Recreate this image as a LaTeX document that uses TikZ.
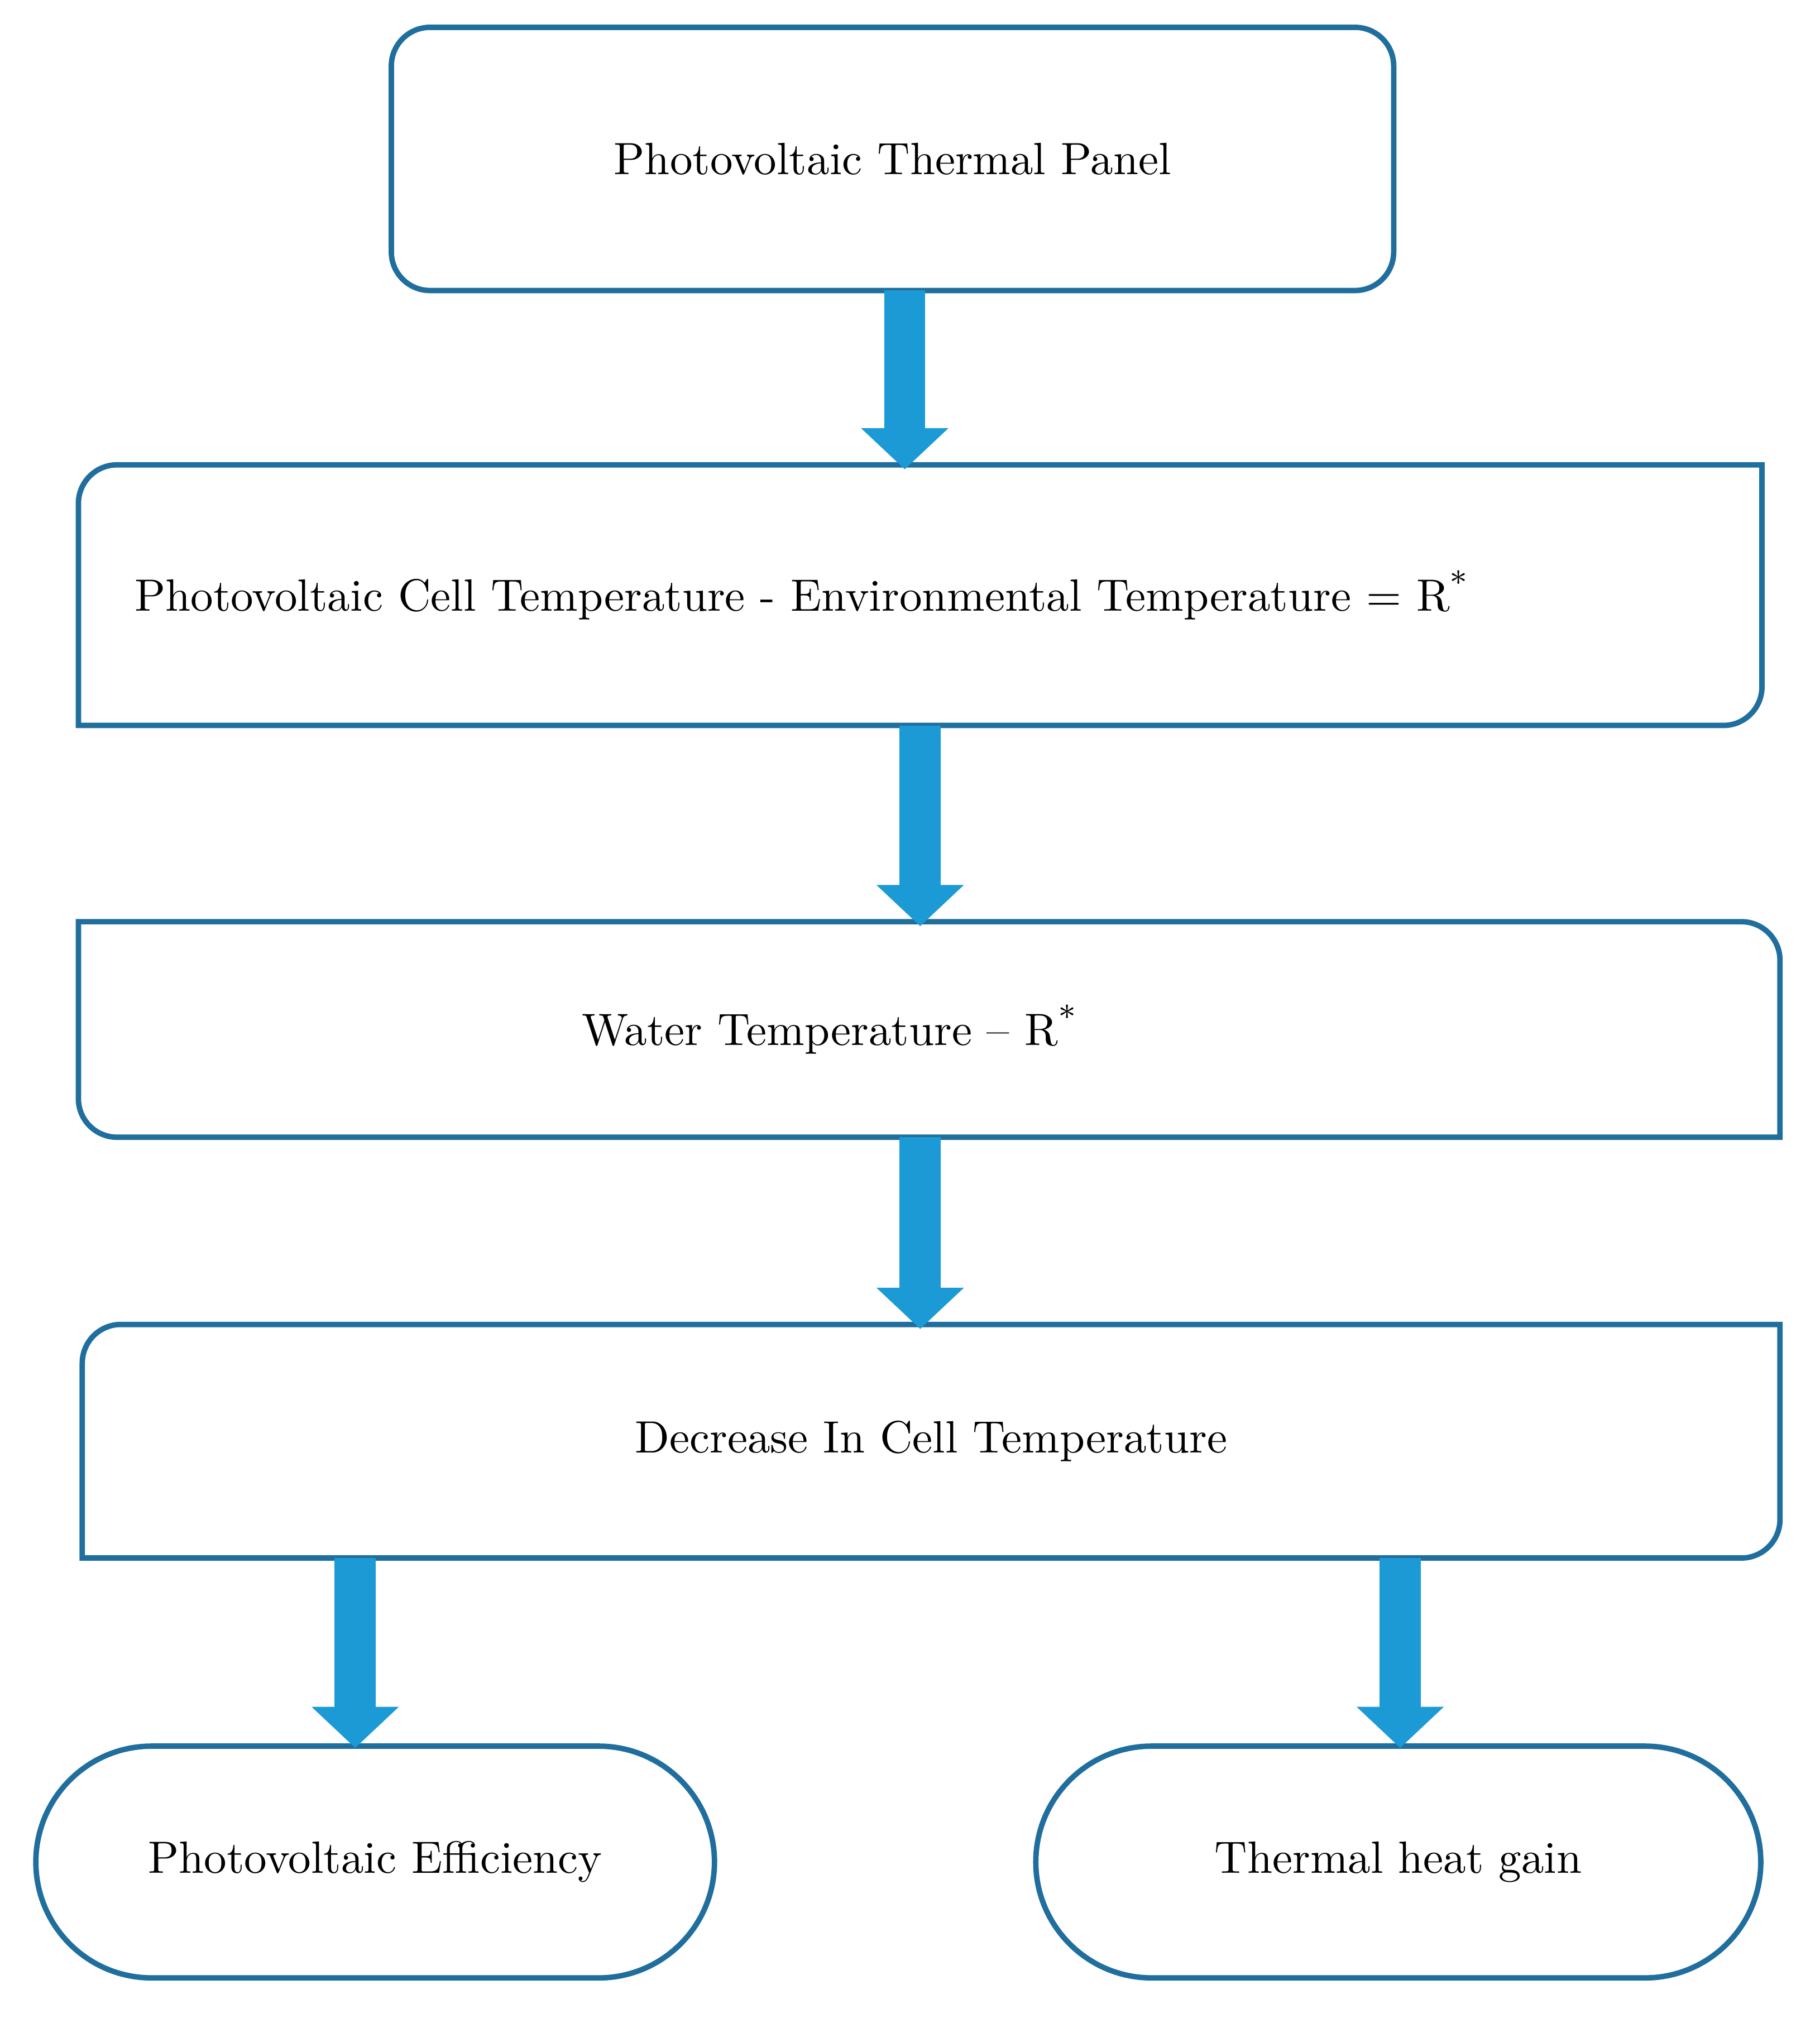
\documentclass[tikz,border=0pt]{standalone}
\usetikzlibrary{arrows.meta,positioning}
\definecolor{boxline}{RGB}{31,110,158}
\definecolor{arrowblue}{RGB}{27,154,214}
\tikzset{
  box/.style={rectangle,inner sep=0pt,draw=none},
  frame/.style={draw=boxline,line width=1.2pt},
  pill/.style={rectangle,rounded corners=0.9cm,draw=boxline,line width=1.2pt,inner sep=0pt},
  flow/.style={draw=arrowblue,line width=0.32cm,-{Triangle[width=0.66cm,length=0.32cm,fill=arrowblue]},shorten >=-1pt}
}
\begin{document}
\begin{tikzpicture}[x=0.01cm,y=-0.01cm,font=\normalsize]
\useasboundingbox (0,0) rectangle (1414,1576);

% boxes
\node[box,minimum width=7.77cm,minimum height=2.03cm] (panel) at (693.5,123.5) {Photovoltaic Thermal Panel};
\draw[frame,rounded corners=0.3cm] (panel.north west) rectangle (panel.south east);

\node[box,minimum width=13.06cm,minimum height=2.01cm,text width=12.2cm,inner xsep=0.43cm,align=left] (diff) at (715,462.5) {Photovoltaic Cell Temperature - Environmental Temperature = R\textsuperscript{*}};
\draw[frame] (diff.south west) [rounded corners=0.3cm] -- (diff.north west) [sharp corners] -- (diff.north east) [rounded corners=0.3cm] -- (diff.south east) [sharp corners] -- cycle;

\node[box,minimum width=13.2cm,minimum height=1.66cm] (water) at (722,800) {};
\node (twater) at (645,800) {Water Temperature -- R\textsuperscript{*}};
\draw[frame] (water.south east) [rounded corners=0.3cm] -- (water.north east) [sharp corners] -- (water.north west) [rounded corners=0.3cm] -- (water.south west) [sharp corners] -- cycle;

\node[box,minimum width=13.17cm,minimum height=1.8cm] (cell) at (723.5,1120) {Decrease In Cell Temperature};
\draw[frame] (cell.south west) [rounded corners=0.3cm] -- (cell.north west) [sharp corners] -- (cell.north east) [rounded corners=0.3cm] -- (cell.south east) [sharp corners] -- cycle;

\node[pill,minimum width=5.27cm,minimum height=1.8cm] (eff) at (291.5,1447) {Photovoltaic Efficiency};
\node[pill,minimum width=5.63cm,minimum height=1.8cm] (heat) at (1086.5,1447) {Thermal heat gain};

% arrows
\draw[flow] (panel.south -| 703,0) -- (diff.north -| 703,0);
\draw[flow] (diff.south -| 715,0) -- (water.north -| 715,0);
\draw[flow] (water.south -| 715,0) -- (cell.north -| 715,0);
\draw[flow] (cell.south -| 276,0) -- (eff.north -| 276,0);
\draw[flow] (cell.south -| 1088,0) -- (heat.north -| 1088,0);
\end{tikzpicture}
\end{document}
